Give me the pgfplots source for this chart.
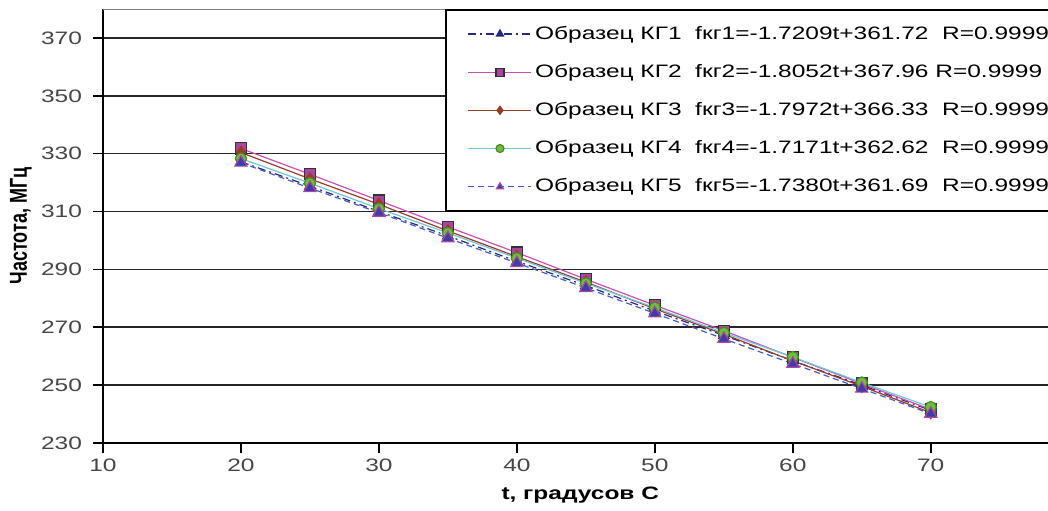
\documentclass[border=0pt]{standalone}
\usepackage{fontspec}
\setmainfont{Liberation Sans}[FakeStretch=1.36]
\newfontfamily\plainsans{Liberation Sans}
\usepackage{pgfplots}
\pgfplotsset{compat=1.18}

\definecolor{kgone}{RGB}{40,40,120}
\definecolor{kgtwo}{RGB}{200,80,180}
\definecolor{kgtwofill}{RGB}{170,70,160}
\definecolor{kgthree}{RGB}{150,60,40}
\definecolor{kgfour}{RGB}{110,200,215}
\definecolor{kgfourfill}{RGB}{110,190,60}
\definecolor{kgfive}{RGB}{70,90,200}
\definecolor{kgfivefill}{RGB}{60,60,170}
\definecolor{tickgray}{RGB}{70,70,70}

\begin{document}
\begin{tikzpicture}
\begin{axis}[
    at={(0,0)}, anchor=south west,
    scale only axis,
    width=472.5pt, height=217pt,
    xmin=10, xmax=78.5,
    ymin=230, ymax=380,
    xtick={10,20,...,70},
    ytick={230,250,...,370},
    axis x line*=bottom,
    axis y line*=left,
    axis line style={black, line width=0.8pt},
    tick align=outside,
    major tick length=5pt,
    tick style={black, line width=0.8pt},
    ymajorgrids,
    major grid style={black!85, line width=0.8pt},
    /pgf/number format/assume math mode=true,
    ticklabel style={font=\fontsize{9}{11}\selectfont, text=tickgray},
    xticklabel style={yshift=0.5pt},
    yticklabel style={xshift=-2pt},
    xlabel={\bfseries t, градусов С},
    ylabel={\plainsans\bfseries Частота, МГц},
    label style={font=\fontsize{9}{11}\selectfont},
    xlabel style={at={(axis description cs:0.505,0)}, anchor=center, yshift=-26pt},
    ylabel style={at={(axis description cs:-0.0868,0.5)}, anchor=center, yscale=1.36},
    legend image code/.code={
        \draw[mark repeat=2, mark phase=2, #1]
            plot coordinates {(0pt,0pt) (15.75pt,0pt) (31.5pt,0pt)};
    },
    legend image post style={mark size=2pt},
    legend style={
        at={(rel axis cs:0.362,1)}, anchor=north west,
        draw=black, line width=0.8pt, fill=white,
        font=\fontsize{9}{11}\selectfont,
        legend cell align=left,
        row sep=7pt,
        inner xsep=11pt, inner ysep=6pt,
        nodes={inner xsep=1.5pt, inner ysep=2pt},
    },
    every axis plot/.append style={line width=0.6pt},
]
\draw[gray, line width=0.8pt] (rel axis cs:0,1) -- (rel axis cs:1,1);

\addplot[color=kgone, dash pattern=on 4pt off 2pt on 1pt off 2pt,
    mark=triangle*, mark size=3pt,
    mark options={solid, fill=kgone, draw=kgone}]
coordinates {
(20,327.2) (25,318.8) (30,310.0) (35,301.6) (40,292.8) (45,284.4)
(50,275.6) (55,267.2) (60,258.4) (65,250.0) (70,241.3)
};
\addlegendentry{Образец КГ1\ \ fкг1=-1.7209t+361.72\ \ R=0.9999}

\addplot[color=kgtwo,
    mark=square*, mark size=2.8pt,
    mark options={fill=kgtwofill, draw=black!80}]
coordinates {
(20,331.8) (25,322.9) (30,313.8) (35,304.7) (40,295.8) (45,286.6)
(50,277.6) (55,268.8) (60,259.6) (65,250.5) (70,241.6)
};
\addlegendentry{Образец КГ2\ \ fкг2=-1.8052t+367.96 R=0.9999}

\addplot[color=kgthree,
    mark=diamond*, mark size=3pt,
    mark options={fill=kgthree, draw=kgthree}]
coordinates {
(20,330.4) (25,321.3) (30,312.5) (35,303.3) (40,294.4) (45,285.6)
(50,276.4) (55,267.6) (60,258.4) (65,249.6) (70,240.5)
};
\addlegendentry{Образец КГ3\ \ fкг3=-1.7972t+366.33\ \ R=0.9999}

\addplot[color=kgfour,
    mark=*, mark size=2.8pt,
    mark options={fill=kgfourfill, draw=kgfourfill!70!black}]
coordinates {
(20,328.3) (25,319.8) (30,311.0) (35,302.6) (40,293.9) (45,285.2)
(50,276.8) (55,268.1) (60,259.7) (65,250.9) (70,242.4)
};
\addlegendentry{Образец КГ4\ \ fкг4=-1.7171t+362.62\ \ R=0.9999}

\addplot[color=kgfive, densely dashed,
    mark=triangle*, mark size=3.5pt,
    mark options={solid, fill=kgfivefill, draw=kgtwofill}]
coordinates {
(20,326.9) (25,318.1) (30,309.6) (35,300.8) (40,292.2) (45,283.6)
(50,274.8) (55,266.0) (60,257.4) (65,248.8) (70,240.1)
};
\addlegendentry{Образец КГ5\ \ fкг5=-1.7380t+361.69\ \ R=0.9999}
\end{axis}
\pgfresetboundingbox
\path (-51.5pt,-33.5pt) rectangle (472.5pt,221.5pt);
\end{tikzpicture}
\end{document}
